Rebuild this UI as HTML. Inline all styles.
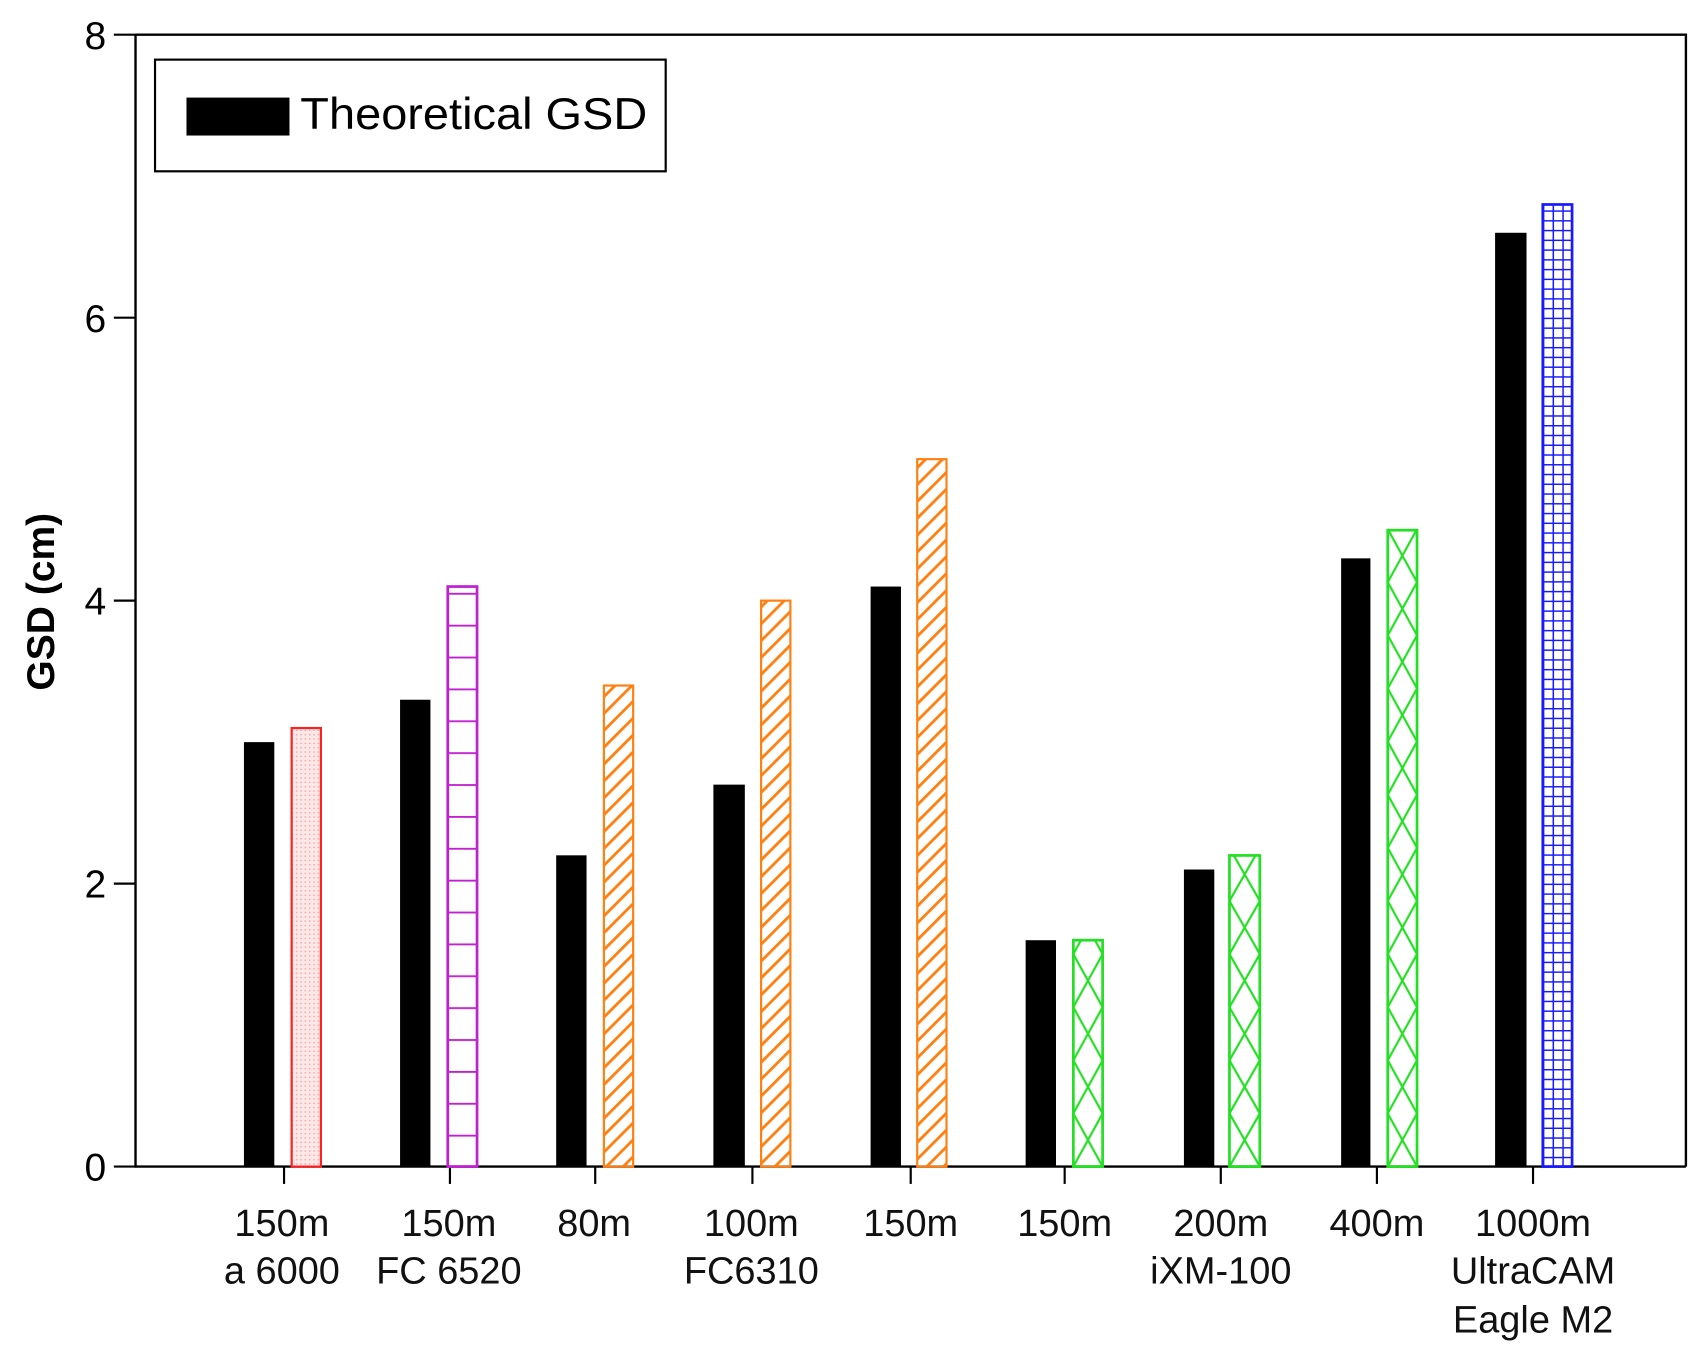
<!DOCTYPE html>
<html><head><meta charset="utf-8"><style>html,body{margin:0;padding:0;background:#fff}svg{display:block}</style></head>
<body>
<svg width="1700" height="1356" viewBox="0 0 1568 1250.7" xmlns="http://www.w3.org/2000/svg" font-family="Liberation Sans, Arial, sans-serif">
<defs>
<pattern id="dots" width="4" height="4" patternUnits="userSpaceOnUse"><rect width="4" height="4" fill="#fde8e8"/><rect x="1" y="1" width="1.3" height="1.3" fill="#f4a0a0"/></pattern>
<pattern id="hl" width="40" height="29.4" patternUnits="userSpaceOnUse" y="1076"><line x1="0" y1="0.5" x2="40" y2="0.5" stroke="#c020d0" stroke-width="2.5"/></pattern>
<pattern id="diag" width="11" height="11" patternUnits="userSpaceOnUse" patternTransform="rotate(45)"><rect x="0" y="0" width="2.6" height="11" fill="#ff8010"/></pattern>
<pattern id="xx" width="27" height="98" patternUnits="userSpaceOnUse" x="990" y="1076"><path d="M0,0 L27,49 L0,98 M27,0 L0,49 L27,98" stroke="#22e022" stroke-width="2" fill="none"/></pattern>
<pattern id="xx7" width="28" height="98" patternUnits="userSpaceOnUse" x="1134" y="1076"><path d="M0,0 L28,49 L0,98 M28,0 L0,49 L28,98" stroke="#22e022" stroke-width="2" fill="none"/></pattern>
<pattern id="xx8" width="27" height="98" patternUnits="userSpaceOnUse" x="1280" y="1076"><path d="M0,0 L27,49 L0,98 M27,0 L0,49 L27,98" stroke="#22e022" stroke-width="2" fill="none"/></pattern>
<pattern id="grid" width="9" height="9" patternUnits="userSpaceOnUse" x="1423" y="1076"><path d="M0,0.5 H9 M0.5,0 V9" stroke="#1a1aff" stroke-width="1.8" fill="none"/></pattern>
</defs>
<rect width="1568" height="1251" fill="#fff"/>
<path d="M125,32 H1555 V1076 M125,32 V1076 H1555" stroke="#000" stroke-width="2.2" fill="none"/>
<g stroke="#000" stroke-width="2"><line x1="105" y1="32" x2="125" y2="32"/><line x1="105" y1="293" x2="125" y2="293"/><line x1="105" y1="554" x2="125" y2="554"/><line x1="105" y1="815" x2="125" y2="815"/><line x1="105" y1="1076" x2="125" y2="1076"/></g>
<g font-size="36" text-anchor="end" fill="#000"><text x="98" y="45">8</text><text x="98" y="306">6</text><text x="98" y="567">4</text><text x="98" y="828">2</text><text x="98" y="1089">0</text></g>
<text transform="translate(50,555) rotate(-90)" font-size="36" font-weight="bold" text-anchor="middle">GSD (cm)</text>
<g stroke="#000" stroke-width="2"><line x1="262" y1="1076" x2="262" y2="1092"/><line x1="415" y1="1076" x2="415" y2="1092"/><line x1="549" y1="1076" x2="549" y2="1092"/><line x1="694" y1="1076" x2="694" y2="1092"/><line x1="840" y1="1076" x2="840" y2="1092"/><line x1="982" y1="1076" x2="982" y2="1092"/><line x1="1126" y1="1076" x2="1126" y2="1092"/><line x1="1270" y1="1076" x2="1270" y2="1092"/><line x1="1414" y1="1076" x2="1414" y2="1092"/></g>
<g font-size="35" text-anchor="middle" fill="#111">
<text x="260" y="1140">150m</text><text x="260" y="1184">a 6000</text>
<text x="414" y="1140">150m</text><text x="414" y="1184">FC 6520</text>
<text x="548" y="1140">80m</text>
<text x="693" y="1140">100m</text><text x="693" y="1184">FC6310</text>
<text x="840" y="1140">150m</text>
<text x="982" y="1140">150m</text>
<text x="1126" y="1140">200m</text><text x="1126" y="1184">iXM-100</text>
<text x="1270" y="1140">400m</text>
<text x="1414" y="1140">1000m</text><text x="1414" y="1184">UltraCAM</text><text x="1414" y="1229">Eagle M2</text>
</g>
<g fill="#000">
<rect x="225" y="684.5" width="28" height="391.5"/>
<rect x="369" y="645.4" width="28" height="430.6"/>
<rect x="513" y="788.9" width="28" height="287.1"/>
<rect x="658" y="723.7" width="29" height="352.3"/>
<rect x="803" y="541" width="28" height="535"/>
<rect x="946" y="867.2" width="28" height="208.8"/>
<rect x="1092" y="802" width="28" height="274"/>
<rect x="1237" y="515" width="27" height="561"/>
<rect x="1379" y="214.7" width="29" height="861.3"/>
</g>
<rect x="269" y="671.5" width="27" height="404.5" fill="url(#dots)" stroke="#ff2020" stroke-width="2"/>
<rect x="413" y="541" width="27" height="535" fill="url(#hl)" stroke="#c020d0" stroke-width="2.5"/>
<rect x="557" y="632.3" width="27" height="443.7" fill="url(#diag)" stroke="#ff8010" stroke-width="2"/>
<rect x="702" y="554" width="27" height="522" fill="url(#diag)" stroke="#ff8010" stroke-width="2"/>
<rect x="846" y="423.5" width="27" height="652.5" fill="url(#diag)" stroke="#ff8010" stroke-width="2"/>
<rect x="990" y="867.2" width="27" height="208.8" fill="url(#xx)" stroke="#22e022" stroke-width="2.5"/>
<rect x="1134" y="789" width="28" height="287" fill="url(#xx7)" stroke="#22e022" stroke-width="2.5"/>
<rect x="1280" y="489" width="27" height="587" fill="url(#xx8)" stroke="#22e022" stroke-width="2.5"/>
<rect x="1423" y="188.6" width="27" height="887.4" fill="url(#grid)" stroke="#1a1aff" stroke-width="2.5"/>
<rect x="143" y="55" width="471" height="103" fill="#fff" stroke="#000" stroke-width="2"/>
<rect x="172" y="90" width="95" height="35" fill="#000"/>
<text x="277" y="119" font-size="41" fill="#000" textLength="320" lengthAdjust="spacingAndGlyphs">Theoretical GSD</text>
</svg>
</body></html>
